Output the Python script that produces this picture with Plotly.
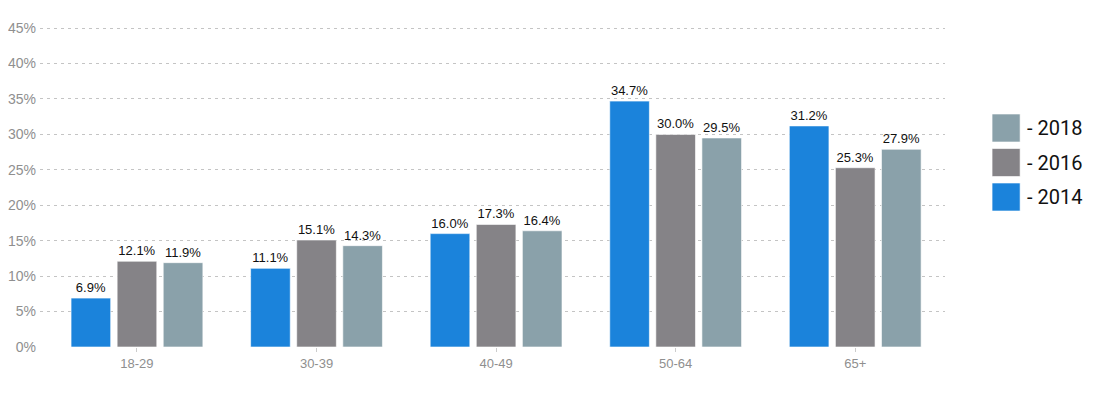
import plotly.graph_objects as go

# Age groups and share per survey year (%)
age_groups = ['18-29', '30-39', '40-49', '50-64', '65+']
share_2014 = [6.9, 11.1, 16.0, 34.7, 31.2]
share_2016 = [12.1, 15.1, 17.3, 30.0, 25.3]
share_2018 = [11.9, 14.3, 16.4, 29.5, 27.9]
years = ['2014', '2016', '2018']
y_ticks = [0, 5, 10, 15, 20, 25, 30, 35, 40, 45]

colours = {'2014': '#1b83db', '2016': '#858387', '2018': '#8aa1aa'}
series = {'2014': share_2014, '2016': share_2016, '2018': share_2018}

PLOT_H = 321  # plot area height in px, used for the legend placement


def build_figure():
    fig = go.Figure()

    for year in years:
        vals = series[year]
        fig.add_trace(go.Bar(
            x=age_groups, y=vals, name='- ' + year,
            marker=dict(color=colours[year],
                        line=dict(color='rgba(255,255,255,0.6)', width=1)),
            text=['{:.1f}%'.format(v) for v in vals],
            textposition='outside', cliponaxis=False,
            textfont=dict(family='Arial, Liberation Sans', size=13, color='#111'),
            hoverinfo='skip', showlegend=False,
        ))

    # hand-made legend so the swatches are as big as in the original
    for i, year in enumerate(reversed(years)):
        y_top = 1 - (114 + i * 34.5 - 26) / float(PLOT_H)
        fig.add_shape(type='rect', xref='paper', yref='paper',
                      x0=1.052, x1=1.083, y0=y_top - 28.0 / PLOT_H, y1=y_top,
                      fillcolor=colours[year], line=dict(width=1, color='rgba(255,255,255,0.6)'))
        fig.add_annotation(xref='paper', yref='paper', x=1.088, y=y_top - 14.0 / PLOT_H,
                           text='- ' + year, showarrow=False, xanchor='left',
                           yanchor='middle',
                           font=dict(family='Roboto, Arial', size=20, color='#111'))

    # the page puts the plot 8px in from the corner, margins allow for that
    fig.update_layout(
        width=1102, height=400,
        margin=dict(l=32, r=165, t=18, b=61),
        paper_bgcolor='white', plot_bgcolor='white',
        barmode='group', bargap=0.23, bargroupgap=0.14,
        font=dict(family='Arial, Liberation Sans', color='#999'),
        xaxis=dict(
            range=[-0.54, 4.5],
            showgrid=False, zeroline=False, showline=False,
            ticks='outside', ticklen=4, tickcolor='#ccc',
            tickfont=dict(size=13, color='#8f8f8f'),
        ),
        yaxis=dict(
            range=[0, 45.3], tickvals=y_ticks, automargin=False,
            ticktext=['{}%'.format(t) for t in y_ticks],
            showgrid=True, gridcolor='#c4c4c4', griddash='3px,4px', gridwidth=1,
            zeroline=False, showline=False, ticks='', ticklabelstandoff=3,
            tickfont=dict(size=14, color='#8f8f8f'),
        ),
    )
    return fig


def main():
    fig = build_figure()
    fig.write_html('out.html')


if __name__ == '__main__':
    main()
